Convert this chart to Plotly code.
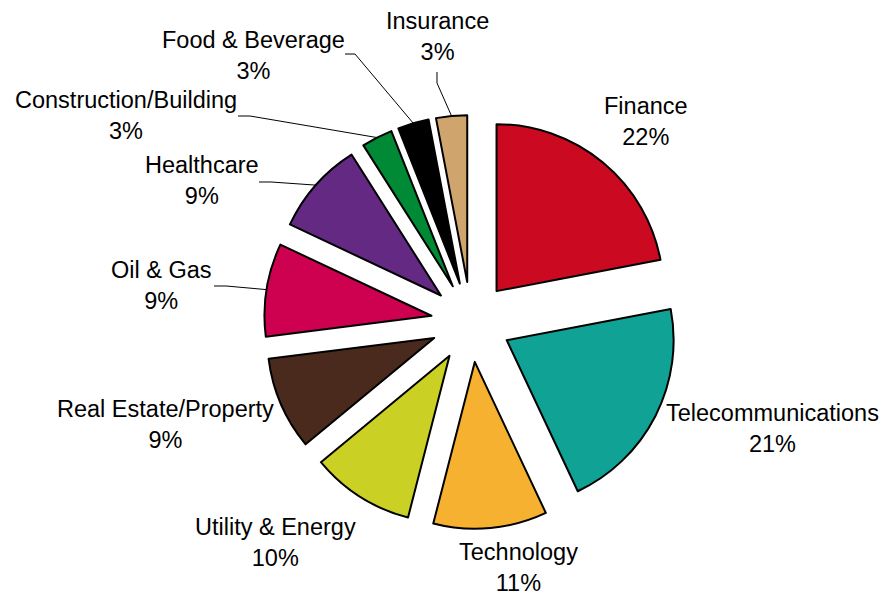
import math
import plotly.graph_objects as go

# Sector shares of the portfolio, clockwise from 12 o'clock
sectors = [
    "Finance", "Telecommunications", "Technology", "Utility & Energy",
    "Real Estate/Property", "Oil & Gas", "Healthcare",
    "Construction/Building", "Food & Beverage", "Insurance",
]
shares = [22, 21, 11, 10, 9, 9, 9, 3, 3, 3]
colors = [
    "#CB0920", "#10A295", "#F5B12F", "#CAD124", "#4A2A1D",
    "#CE0050", "#632983", "#008A36", "#000000", "#CFA56D",
]

W, H = 884, 595
PULL = 0.24
FONT = dict(family="Liberation Sans, Arial, sans-serif", size=23.5, color="#000000")

# pie box in pixels (no margins, so paper == figure)
cx_px, cy_px = 471, 322
box = 414
dom_x = [(cx_px - box / 2) / W, (cx_px + box / 2) / W]
dom_y = [1 - (cy_px + box / 2) / H, 1 - (cy_px - box / 2) / H]
radius = box / (2 + 2 * PULL)


def px_to_paper(x, y):
    return x / W, 1 - y / H


def outer_mid(i):
    """Pixel point on the outer arc at the middle of slice i (after pull)."""
    total = sum(shares)
    start = sum(shares[:i]) / total * 360
    mid = math.radians(start + shares[i] / total * 180)
    d = radius * (1 + PULL)
    return cx_px + d * math.sin(mid), cy_px - d * math.cos(mid)


fig = go.Figure(
    go.Pie(
        labels=sectors,
        values=shares,
        sort=False,
        direction="clockwise",
        rotation=0,
        pull=[PULL] * len(shares),
        marker=dict(colors=colors, line=dict(color="#000000", width=2)),
        textinfo="none",
        hoverinfo="label+percent",
        domain=dict(x=dom_x, y=dom_y),
        showlegend=False,
    )
)

# label block centres (pixels)
label_pos = {
    "Finance": (646, 122),
    "Telecommunications": (772, 428),
    "Technology": (518, 567),
    "Utility & Energy": (275, 542),
    "Real Estate/Property": (165, 424),
    "Oil & Gas": (161, 285),
    "Healthcare": (202, 180),
    "Construction/Building": (126, 116),
    "Food & Beverage": (254, 55),
    "Insurance": (437, 36),
}

annotations = []
for name, val in zip(sectors, shares):
    lx, ly = label_pos[name]
    px, py = px_to_paper(lx, ly)
    annotations.append(dict(
        x=px, y=py, xref="paper", yref="paper",
        text=f"{name}<br>{val}%", showarrow=False,
        font=FONT, align="center", xanchor="center", yanchor="middle",
    ))

# leader lines: start near the label, elbow, then to the slice's outer arc
leaders = {
    "Insurance": [(437, 72), (437, 83)],
    "Food & Beverage": [(345, 54), (355, 54)],
    "Construction/Building": [(238, 116), (250, 116)],
    "Healthcare": [(259, 182), (271, 182)],
    "Oil & Gas": [(214, 286), (226, 286)],
}
shapes = []
for name, pts in leaders.items():
    i = sectors.index(name)
    ex, ey = outer_mid(i)
    path_pts = [px_to_paper(*p) for p in pts] + [px_to_paper(ex, ey)]
    path = "M " + " L ".join(f"{x:.5f},{y:.5f}" for x, y in path_pts)
    shapes.append(dict(type="path", path=path, xref="paper", yref="paper",
                       line=dict(color="#000000", width=1)))

fig.update_layout(
    width=W, height=H,
    margin=dict(l=0, r=0, t=0, b=0),
    paper_bgcolor="#FFFFFF",
    plot_bgcolor="#FFFFFF",
    annotations=annotations,
    shapes=shapes,
    font=FONT,
)

fig.write_html("out.html")
